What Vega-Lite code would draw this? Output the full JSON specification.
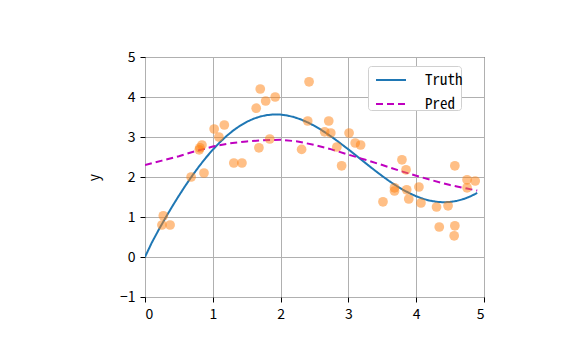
{
  "$schema": "https://vega.github.io/schema/vega-lite/v6.json",
  "autosize": "none",
  "width": 339,
  "height": 240,
  "padding": {"left": 145, "top": 57, "right": 87, "bottom": 67},
  "background": "white",
  "config": {
    "font": "Noto Sans CJK SC",
    "view": {"stroke": "black", "strokeWidth": 1},
    "axis": {
      "labelFont": "Noto Sans CJK SC",
      "labelFontSize": 14,
      "labelColor": "black",
      "labelOverlap": false,
      "titleFont": "Noto Sans CJK SC",
      "titleFontSize": 14,
      "titleFontWeight": "normal",
      "titleColor": "black",
      "gridColor": "#b0b0b0",
      "gridWidth": 1,
      "tickColor": "black",
      "tickSize": 5,
      "domain": false,
      "labelPadding": 5
    }
  },
  "datasets": {
    "train": [
      {"x": 0.27, "y": 1.03}, {"x": 0.25, "y": 0.8}, {"x": 0.37, "y": 0.8},
      {"x": 0.68, "y": 2.0}, {"x": 0.87, "y": 2.1}, {"x": 0.8, "y": 2.68},
      {"x": 0.84, "y": 2.8}, {"x": 0.81, "y": 2.73}, {"x": 1.02, "y": 3.2},
      {"x": 1.17, "y": 3.3}, {"x": 1.09, "y": 3.0}, {"x": 1.31, "y": 2.35},
      {"x": 1.43, "y": 2.35}, {"x": 1.68, "y": 2.73}, {"x": 1.64, "y": 3.72},
      {"x": 1.7, "y": 4.2}, {"x": 1.78, "y": 3.9}, {"x": 1.92, "y": 4.0},
      {"x": 1.84, "y": 2.95}, {"x": 2.31, "y": 2.69}, {"x": 2.42, "y": 4.38},
      {"x": 2.4, "y": 3.4}, {"x": 2.71, "y": 3.4}, {"x": 2.65, "y": 3.13},
      {"x": 2.74, "y": 3.1}, {"x": 2.83, "y": 2.75}, {"x": 3.01, "y": 3.1},
      {"x": 3.1, "y": 2.85}, {"x": 3.18, "y": 2.8}, {"x": 2.9, "y": 2.28},
      {"x": 3.79, "y": 2.43}, {"x": 3.85, "y": 2.18}, {"x": 4.57, "y": 2.28},
      {"x": 4.75, "y": 1.93}, {"x": 4.87, "y": 1.9}, {"x": 4.75, "y": 1.73},
      {"x": 3.68, "y": 1.73}, {"x": 3.68, "y": 1.65}, {"x": 3.86, "y": 1.68},
      {"x": 4.04, "y": 1.75}, {"x": 3.51, "y": 1.38}, {"x": 3.89, "y": 1.45},
      {"x": 4.07, "y": 1.35}, {"x": 4.3, "y": 1.25}, {"x": 4.47, "y": 1.28},
      {"x": 4.34, "y": 0.75}, {"x": 4.57, "y": 0.78}, {"x": 4.56, "y": 0.53}
    ],
    "curves": [
      {"x": 0.0, "y": 0.0, "s": "Truth"}, {"x": 0.1, "y": 0.358, "s": "Truth"},
      {"x": 0.2, "y": 0.673, "s": "Truth"}, {"x": 0.3, "y": 0.973, "s": "Truth"},
      {"x": 0.4, "y": 1.259, "s": "Truth"}, {"x": 0.5, "y": 1.533, "s": "Truth"},
      {"x": 0.6, "y": 1.794, "s": "Truth"}, {"x": 0.7, "y": 2.04, "s": "Truth"},
      {"x": 0.8, "y": 2.271, "s": "Truth"}, {"x": 0.9, "y": 2.486, "s": "Truth"},
      {"x": 1.0, "y": 2.683, "s": "Truth"}, {"x": 1.1, "y": 2.862, "s": "Truth"},
      {"x": 1.2, "y": 3.021, "s": "Truth"}, {"x": 1.3, "y": 3.161, "s": "Truth"},
      {"x": 1.4, "y": 3.28, "s": "Truth"}, {"x": 1.5, "y": 3.378, "s": "Truth"},
      {"x": 1.6, "y": 3.456, "s": "Truth"}, {"x": 1.7, "y": 3.512, "s": "Truth"},
      {"x": 1.8, "y": 3.548, "s": "Truth"}, {"x": 1.9, "y": 3.564, "s": "Truth"},
      {"x": 2.0, "y": 3.56, "s": "Truth"}, {"x": 2.1, "y": 3.537, "s": "Truth"},
      {"x": 2.2, "y": 3.496, "s": "Truth"}, {"x": 2.3, "y": 3.438, "s": "Truth"},
      {"x": 2.4, "y": 3.365, "s": "Truth"}, {"x": 2.5, "y": 3.277, "s": "Truth"},
      {"x": 2.6, "y": 3.177, "s": "Truth"}, {"x": 2.7, "y": 3.066, "s": "Truth"},
      {"x": 2.8, "y": 2.946, "s": "Truth"}, {"x": 2.9, "y": 2.819, "s": "Truth"},
      {"x": 3.0, "y": 2.69, "s": "Truth"}, {"x": 3.1, "y": 2.555, "s": "Truth"},
      {"x": 3.2, "y": 2.419, "s": "Truth"}, {"x": 3.3, "y": 2.284, "s": "Truth"},
      {"x": 3.4, "y": 2.151, "s": "Truth"}, {"x": 3.5, "y": 2.023, "s": "Truth"},
      {"x": 3.6, "y": 1.901, "s": "Truth"}, {"x": 3.7, "y": 1.788, "s": "Truth"},
      {"x": 3.8, "y": 1.686, "s": "Truth"}, {"x": 3.9, "y": 1.595, "s": "Truth"},
      {"x": 4.0, "y": 1.518, "s": "Truth"}, {"x": 4.1, "y": 1.455, "s": "Truth"},
      {"x": 4.2, "y": 1.409, "s": "Truth"}, {"x": 4.3, "y": 1.38, "s": "Truth"},
      {"x": 4.4, "y": 1.368, "s": "Truth"}, {"x": 4.5, "y": 1.376, "s": "Truth"},
      {"x": 4.6, "y": 1.403, "s": "Truth"}, {"x": 4.7, "y": 1.449, "s": "Truth"},
      {"x": 4.8, "y": 1.515, "s": "Truth"}, {"x": 4.9, "y": 1.601, "s": "Truth"},
      {"x": 0.0, "y": 2.3, "s": "Pred"}, {"x": 0.25, "y": 2.41, "s": "Pred"},
      {"x": 0.5, "y": 2.52, "s": "Pred"}, {"x": 0.75, "y": 2.65, "s": "Pred"},
      {"x": 1.0, "y": 2.76, "s": "Pred"}, {"x": 1.25, "y": 2.84, "s": "Pred"},
      {"x": 1.5, "y": 2.89, "s": "Pred"}, {"x": 1.75, "y": 2.92, "s": "Pred"},
      {"x": 2.0, "y": 2.93, "s": "Pred"}, {"x": 2.25, "y": 2.89, "s": "Pred"},
      {"x": 2.5, "y": 2.8, "s": "Pred"}, {"x": 2.75, "y": 2.69, "s": "Pred"},
      {"x": 3.0, "y": 2.56, "s": "Pred"}, {"x": 3.25, "y": 2.43, "s": "Pred"},
      {"x": 3.5, "y": 2.3, "s": "Pred"}, {"x": 3.75, "y": 2.16, "s": "Pred"},
      {"x": 4.0, "y": 2.03, "s": "Pred"}, {"x": 4.25, "y": 1.91, "s": "Pred"},
      {"x": 4.5, "y": 1.8, "s": "Pred"}, {"x": 4.75, "y": 1.71, "s": "Pred"},
      {"x": 4.9, "y": 1.66, "s": "Pred"}
    ]
  },
  "layer": [
    {
      "data": {"name": "curves"},
      "mark": {"type": "line", "strokeWidth": 2, "clip": true},
      "encoding": {
        "x": {"field": "x", "type": "quantitative",
              "scale": {"domain": [0, 5], "nice": false, "zero": false},
              "axis": {"title": null, "values": [0, 1, 2, 3, 4, 5], "format": "d", "grid": true}},
        "y": {"field": "y", "type": "quantitative",
              "scale": {"domain": [-1, 5], "nice": false, "zero": false},
              "axis": {"title": "y", "tickCount": 6, "tickMinStep": 1, "grid": true, "titlePadding": 18,
                       "labelExpr": "datum.value < 0 ? '−' + abs(datum.value) : format(datum.value, 'd')"}},
        "color": {"field": "s", "type": "nominal",
                  "scale": {"domain": ["Truth", "Pred"], "range": ["#1f77b4", "#bf00bf"]},
                  "legend": {"title": null, "orient": "none", "legendX": 223, "legendY": 9,
                             "symbolType": "stroke", "symbolSize": 900, "symbolStrokeWidth": 2,
                             "symbolOffset": 9,
                             "labelFontSize": 15, "labelFont": "'Noto Sans Mono CJK SC', 'DejaVu Sans Mono'", "labelColor": "black",
                             "labelExpr": "datum.label + ' '",
                             "fillColor": "white", "strokeColor": "#d0d0d0", "cornerRadius": 3,
                             "padding": -2, "rowPadding": 0, "labelOffset": 18}},
        "strokeDash": {"field": "s", "type": "nominal",
                       "scale": {"domain": ["Truth", "Pred"], "range": [[1, 0], [7, 4]]},
                       "legend": null},
        "detail": {"field": "s"}
      }
    },
    {
      "data": {"name": "train"},
      "mark": {"type": "circle", "size": 95, "color": "#ff7f0e", "opacity": 0.5},
      "encoding": {
        "x": {"field": "x", "type": "quantitative"},
        "y": {"field": "y", "type": "quantitative"}
      }
    }
  ]
}
